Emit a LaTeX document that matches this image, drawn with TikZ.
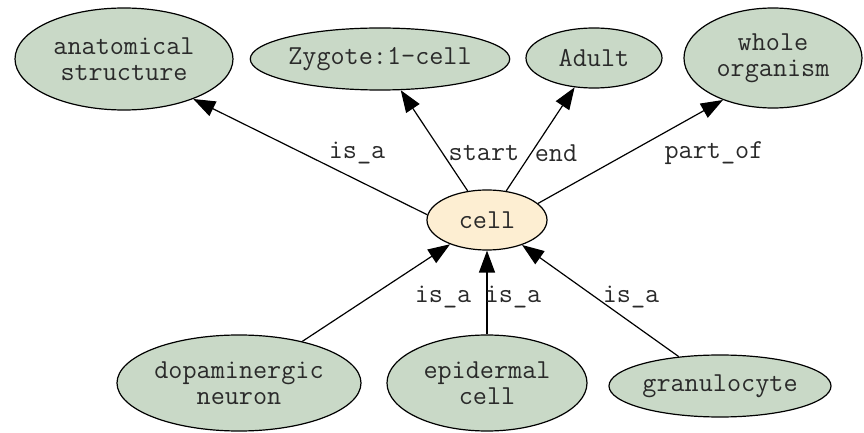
\documentclass[tikz,border=0pt]{standalone}
\usepackage{tikz}
\usetikzlibrary{arrows.meta,shapes.geometric}
\definecolor{termfill}{HTML}{C9D9C7}
\definecolor{focusfill}{HTML}{FDEED2}
\definecolor{ink}{HTML}{2A2A2A}

\begin{document}
\begin{tikzpicture}[
    x=0.5pt, y=-0.5pt,
    >={Triangle[length=11pt, width=8pt]},
    term/.style={draw, ellipse, line width=0.6pt, fill=termfill,
                 inner sep=0pt, align=center, text=ink,
                 font=\ttfamily\fontsize{13.7}{13}\selectfont},
    focus/.style={term, fill=focusfill},
    rel/.style={->, line width=0.6pt},
    rlabel/.style={font=\ttfamily\fontsize{13.7}{13}\selectfont, text=ink,
                   inner sep=1pt},
]
\useasboundingbox (0,0) rectangle (864,433);

% ── parent terms ──
\node[term, minimum width=109pt, minimum height=51pt] (anat) at (124,59)
    {anatomical\\structure};
\node[term, minimum width=123pt, minimum height=31pt] (zygote) at (380,59)
    {Zygote:1-cell};
\node[term, minimum width=68pt, minimum height=30pt] (adult) at (594,58)
    {Adult};
\node[term, minimum width=89pt, minimum height=50pt] (whole) at (773,58)
    {whole\\organism};

% ── focus term ──
\node[focus, minimum width=60pt, minimum height=30pt] (cell) at (487,220)
    {cell};

% ── child terms ──
\node[term, minimum width=122pt, minimum height=48pt] (dopa) at (239,383)
    {dopaminergic\\neuron};
\node[term, minimum width=100pt, minimum height=48pt] (epi) at (487,383)
    {epidermal\\cell};
\node[term, minimum width=111pt, minimum height=31pt] (gran) at (720,386)
    {granulocyte};

% ── outgoing relations ──
\draw[rel] (cell.175) -- (anat.330);
\draw[rel] (cell) -- (zygote);
\draw[rel] (cell) -- (adult);
\draw[rel] (cell.18) -- (whole.220);

% ── incoming relations ──
\draw[rel] (dopa) -- (cell);
\draw[rel] (epi) -- (cell);
\draw[rel] (gran) -- (cell);

% ── relation labels ──
\node[rlabel] (lanat) at (357,153) {is\_a};
\node[rlabel] (lstart) at (484,153) {start};
\node[rlabel] (lend) at (556,153) {end};
\node[rlabel] (lwhole) at (714,153) {part\_of};
\node[rlabel] (ldopa) at (443,297) {is\_a};
\node[rlabel] (lepi) at (513,297) {is\_a};
\node[rlabel] (lgran) at (631,297) {is\_a};

\end{tikzpicture}
\end{document}
